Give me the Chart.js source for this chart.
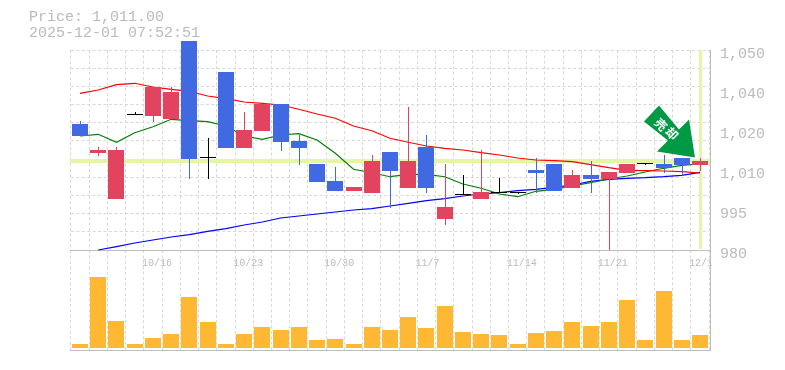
<!DOCTYPE html>
<html>
<head>
<meta charset="utf-8">
<title>Price chart</title>
<script src="https://cdn.jsdelivr.net/npm/chart.js@4"></script>
<style>
    html, body { margin: 0; padding: 0; background: #fff; }
    #page { position: relative; width: 785px; height: 370px; overflow: hidden; }
    #priceChart, #volumeChart { position: absolute; left: 0; }
    #priceChart { top: 0; }
    #volumeChart { top: 250px; }
    #header { position: absolute; left: 29px; top: 10px; font: 15px/16px "Liberation Mono", monospace; color: #bbb; white-space: pre; }
</style>
</head>
<body>
<div id="page">
    <canvas id="volumeChart" width="785" height="105"></canvas>
    <canvas id="priceChart" width="785" height="270"></canvas>
    <div id="header">Price: 1,011.00
2025-12-01 07:52:51</div>
</div>
<script>
    const dates = ['10/9', '10/10', '10/14', '10/15', '10/16', '10/17', '10/20', '10/21', '10/22', '10/23',
        '10/24', '10/27', '10/28', '10/29', '10/30', '10/31', '11/4', '11/5', '11/6', '11/7',
        '11/10', '11/11', '11/12', '11/13', '11/14', '11/17', '11/18', '11/19', '11/20', '11/21',
        '11/25', '11/26', '11/27', '11/28', '12/1'];
    const dateTicks = ['10/16', '10/23', '10/30', '11/7', '11/14', '11/21', '12/1'];

    const opens = [1024.1, 1013.95, 997.85, 1027.15, 1026.9, 1025.85, 1053.15, 1012.1, 1042.3, 1015.7,
        1021.75, 1031.1, 1018.15, 1010.1, 1004.15, 1000.65, 999.95, 1014.3, 1001.7, 1016.05,
        990.85, 999.15, 997.85, 1000.05, 1000.1, 1008, 1010.1, 1001.7, 1006.25, 1004.85,
        1006.95, 1010, 1010.1, 1012.2, 1009.75];
    const highs = [1025.15, 1016.05, 1016.05, 1028.3, 1037.05, 1037.05, 1053.15, 1019.2, 1042.3, 1028.3,
        1031.1, 1031.1, 1020.25, 1010.1, 1009.05, 1002.05, 1013.25, 1014.3, 1030.05, 1020.25,
        1010.1, 1006.25, 1015, 1005.2, 1000.1, 1012.2, 1010.1, 1008, 1011.15, 1007.3,
        1010.1, 1010, 1013.25, 1012.2, 1012.2];
    const lows = [1019.9, 1012.9, 997.85, 1027.15, 1024.8, 1025.85, 1004.85, 1004.85, 1015.7, 1015.7,
        1021.75, 1014.65, 1009.75, 1003.8, 1000.65, 1000.65, 999.95, 994.8, 1001.7, 999.95,
        988.75, 999.15, 997.85, 1000.05, 1000.1, 999.95, 1000.65, 1001.7, 999.95, 980,
        1006.95, 1010, 1006.95, 1005.9, 1007.65];
    const closes = [1019.9, 1015, 1015, 1027.15, 1037.05, 1035.3, 1011.85, 1012.1, 1015.7, 1022,
        1031.1, 1017.8, 1015.7, 1003.8, 1000.65, 1002.05, 1011.15, 1007.65, 1011.15, 1001.7,
        995.05, 999.15, 1000.3, 1000.05, 1000.1, 1006.95, 1000.65, 1006.25, 1004.85, 1007.3,
        1010.1, 1010, 1008.7, 1009.75, 1011];

    const maRed = [1034.85, 1036, 1037.85, 1038.35, 1037.05, 1036.25, 1035.55, 1033.9, 1032.95, 1031.8,
        1031.35, 1030.75, 1029.25, 1027.6, 1026.1, 1023.4, 1021.75, 1019.1, 1017.7, 1016.4,
        1015.6, 1015, 1014.05, 1013.25, 1012.2, 1011.5, 1011.25, 1010.9, 1009.9, 1008.8,
        1007.9, 1007.75, 1007.65, 1007.4, 1006.95];
    const maGreen = [1019.9, 1020.5, 1017.7, 1021.05, 1023.15, 1025.75, 1025.25, 1024.9, 1023.4, 1019.9,
        1018.75, 1020.25, 1020.7, 1018.5, 1013.85, 1008.25, 1007.05, 1005.65, 1006.5, 1006.5,
        1005.65, 1003.1, 1001.6, 999.6, 998.65, 1000.55, 1001.25, 1002.4, 1003.55, 1004.85,
        1005.9, 1007.3, 1008.6, 1009.65, 1010.1];
    const maBlue = [null, 980, 981.2, 982.45, 983.5, 984.55, 985.4, 986.5, 987.5, 988.75,
        989.8, 991.2, 991.9, 992.6, 993.3, 994, 994.45, 995.4, 996.35, 997.25,
        997.95, 998.9, 999.6, 1000.05, 1000.75, 1001.25, 1001.95, 1002.75, 1004, 1004.75,
        1005.1, 1005.3, 1005.65, 1006.15, 1007.2];

    const volumes = [4, 71, 27, 4, 10, 14, 51, 26, 4, 14,
        21, 18, 21, 8, 9, 4, 21, 18, 31, 20,
        42, 16, 14, 13, 4, 15, 17, 26, 22, 26,
        48, 8, 57, 8, 13];

    const priceMin = 980;
    const priceMax = 1050;
    const priceTicks = [980, 994, 1008, 1022, 1036, 1050];
    const priceLabels = ['980', '995', '1,010', '1,020', '1,040', '1,050'];
    const currentPrice = 1011;

    const RED = '#e2435f';
    const BLUE = '#4169e1';
    const BLACK = '#000';
    const GRID = '#d8d8d8';
    const DASH = [3, 2.4];
    const AXIS = '#bebebe';
    const GUIDE = '#e4f4a8';
    const TEXT = '#bbb';
    const MONO = '"Liberation Mono", monospace';

    function candleColor(i) {
        if (closes[i] > opens[i]) return RED;
        if (closes[i] < opens[i]) return BLUE;
        return BLACK;
    }
    const candleColors = dates.map((d, i) => candleColor(i));

    // snap the bars to whole pixels so wicks and bodies stay crisp
    const snapBars = {
        id: 'snapBars',
        beforeDatasetsDraw(chart) {
            chart.getSortedVisibleDatasetMetas().forEach(meta => {
                if (meta.type !== 'bar') return;
                meta.data.forEach(el => {
                    const thin = el.width < 2;
                    el.x = Math.round(el.x) + (thin ? 0.5 : 0);
                    const top = Math.round(Math.min(el.y, el.base));
                    const bottom = Math.max(Math.round(Math.max(el.y, el.base)), top + 1);
                    el.y = top;
                    el.base = bottom;
                });
            });
        }
    };

    // right hand frame line, one pixel outside the plot
    const frameLine = {
        id: 'frameLine',
        afterDraw(chart) {
            const c = chart.ctx, area = chart.chartArea;
            c.save();
            c.fillStyle = AXIS;
            c.fillRect(Math.round(area.right) + 1, area.top, 1, area.bottom - area.top + 1);
            c.restore();
        }
    };

    // yellow guide lines for the current price and the last session
    const guideLines = {
        id: 'guideLines',
        beforeDatasetsDraw(chart) {
            const c = chart.ctx, area = chart.chartArea;
            const y = chart.scales.y.getPixelForValue(currentPrice);
            const x = chart.scales.x.getPixelForValue(dates.length - 1);
            c.save();
            c.fillStyle = GUIDE;
            c.fillRect(Math.floor(area.left), Math.round(y) - 2, 640, 4);
            c.fillRect(Math.round(x) - 1, area.top, 3, area.bottom - area.top - 1);
            c.restore();
        }
    };

    // green signal arrow, placed relative to the last candle
    const signalArrow = {
        id: 'signalArrow',
        afterDatasetsDraw(chart) {
            const c = chart.ctx;
            const ax = chart.scales.x.getPixelForValue(dates.length - 1);
            const ay = chart.scales.y.getPixelForValue(currentPrice);
            c.save();
            c.translate(ax, ay);
            c.fillStyle = '#009944';
            c.beginPath();
            c.moveTo(-5, -4);
            c.lineTo(-43, -10);
            c.lineTo(-32, -21);
            c.lineTo(-56, -40);
            c.lineTo(-41, -56);
            c.lineTo(-21, -32);
            c.lineTo(-11, -42);
            c.closePath();
            c.fill();
            c.fillStyle = '#fff';
            c.font = 'bold 12px "Noto Sans CJK JP", sans-serif';
            c.textAlign = 'center';
            c.textBaseline = 'middle';
            c.save();
            c.translate(-39, -37);
            c.rotate(Math.PI / 4);
            c.fillText('売', 0, 0);
            c.restore();
            c.save();
            c.translate(-28, -28);
            c.rotate(Math.PI / 4);
            c.fillText('却', 0, 0);
            c.restore();
            c.restore();
        }
    };

    // the last date label is cut at the frame in the original
    const clipLastLabel = {
        id: 'clipLastLabel',
        afterDraw(chart) {
            chart.ctx.clearRect(Math.round(chart.chartArea.right) + 3, chart.chartArea.bottom + 1, 6, 19);
        }
    };

    function lineSet(values, color) {
        return { type: 'line', data: values, borderColor: color, borderWidth: 1.2, pointRadius: 0, tension: 0, order: 3, yAxisID: 'y', clip: false };
    }

    new Chart(document.getElementById('priceChart').getContext('2d'), {
        type: 'bar',
        data: {
            labels: dates,
            datasets: [
                lineSet(maRed, '#ff0000'),
                lineSet(maGreen, '#008000'),
                lineSet(maBlue, '#0000ff'),
                {
                    data: dates.map((d, i) => [lows[i], highs[i]]),
                    backgroundColor: candleColors,
                    barThickness: 1, inflateAmount: 0, grouped: false, order: 2, yAxisID: 'y', clip: false
                },
                {
                    data: dates.map((d, i) => [opens[i], closes[i]]),
                    backgroundColor: candleColors,
                    barThickness: 16, inflateAmount: 0, minBarLength: 1, grouped: false, order: 1, yAxisID: 'y', clip: false
                }
            ]
        },
        options: {
            responsive: false,
            animation: false,
            layout: { padding: { left: 70.9, top: 50, right: 0, bottom: 0 } },
            plugins: { legend: { display: false }, tooltip: { enabled: false } },
            scales: {
                x: {
                    offset: true,
                    afterFit: s => { s.height = 20; },
                    grid: { offset: true, color: GRID, drawTicks: false },
                    border: { display: true, color: AXIS, dash: DASH },
                    ticks: {
                        autoSkip: false, maxRotation: 0, align: 'start', labelOffset: -11, padding: 7,
                        color: TEXT, font: { family: MONO, size: 10 },
                        callback: (v, i) => dateTicks.includes(dates[i]) ? dates[i] : ''
                    }
                },
                y: {
                    min: priceMin, max: priceMax,
                    afterFit: s => { s.width = 0; },
                    grid: { color: GRID, drawTicks: false },
                    border: { display: false, dash: DASH },
                    ticks: { display: false, count: 12 }
                },
                yLabels: {
                    position: 'right',
                    min: priceMin, max: priceMax,
                    afterFit: s => { s.width = 75.9; },
                    afterBuildTicks: s => { s.ticks = priceTicks.map(v => ({ value: v })); },
                    grid: { display: false, drawTicks: false },
                    border: { display: false },
                    ticks: {
                        autoSkip: false, padding: 11, labelOffset: 4,
                        color: TEXT, font: { family: MONO, size: 15 },
                        callback: (v, i) => priceLabels[i]
                    }
                }
            }
        },
        plugins: [snapBars, guideLines, signalArrow, frameLine, clipLastLabel]
    });

    new Chart(document.getElementById('volumeChart').getContext('2d'), {
        type: 'bar',
        data: {
            labels: dates,
            datasets: [{ data: volumes, backgroundColor: '#ffb833', barThickness: 16, inflateAmount: 0 }]
        },
        options: {
            responsive: false,
            animation: false,
            layout: { padding: { left: 70.9, top: 0, right: 0, bottom: 0 } },
            plugins: { legend: { display: false }, tooltip: { enabled: false } },
            scales: {
                x: {
                    offset: true,
                    afterFit: s => { s.height = 5; },
                    grid: { offset: true, color: GRID, drawTicks: false },
                    border: { display: true, color: AXIS, dash: DASH },
                    ticks: { display: false }
                },
                y: {
                    position: 'right',
                    min: -2, max: 98,
                    afterFit: s => { s.width = 75.9; },
                    grid: { display: false, drawTicks: false },
                    border: { display: false },
                    ticks: { display: false }
                }
            }
        },
        plugins: [snapBars, frameLine]
    });
</script>
</body>
</html>
